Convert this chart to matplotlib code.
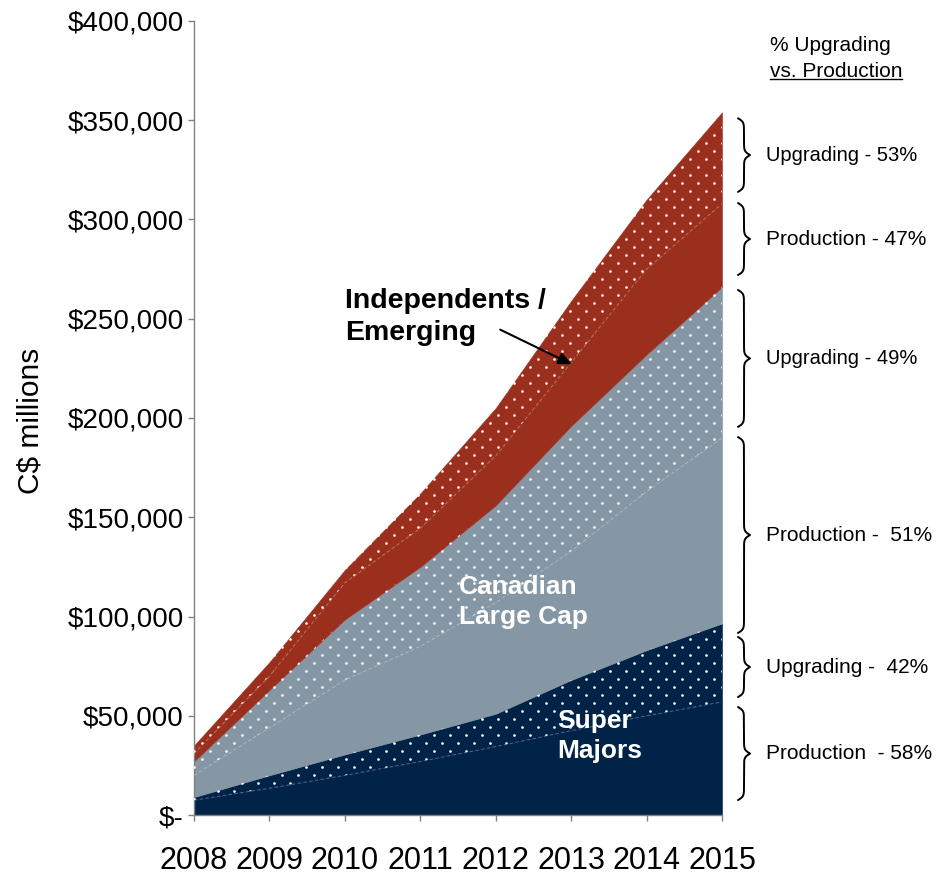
import matplotlib
matplotlib.use('Agg')
import matplotlib.pyplot as plt
import numpy as np
from matplotlib.lines import Line2D
from matplotlib.ticker import FuncFormatter, MultipleLocator
from matplotlib.transforms import blended_transform_factory

plt.rcParams['font.family'] = ['Liberation Sans', 'DejaVu Sans']
plt.rcParams['text.parse_math'] = False

# C$ millions, stacked from the bottom up
years = [2008, 2009, 2010, 2011, 2012, 2013, 2014, 2015]
super_prod = [7500, 13500, 20000, 27000, 34500, 42500, 50000, 57000]
super_upg = [1500, 6500, 10500, 13500, 16500, 25500, 33000, 39500]
large_prod = [11000, 24000, 37500, 44500, 56000, 65000, 80000, 93500]
large_upg = [7000, 19000, 30500, 40000, 49000, 63000, 69000, 76000]
indep_prod = [4000, 7000, 18500, 19500, 25000, 32000, 43000, 42000]
indep_upg = [4000, 7000, 6500, 17500, 24000, 31000, 35000, 46000]

share_labels = ['Production  - 58%', 'Upgrading -  42%', 'Production -  51%',
                'Upgrading - 49%', 'Production - 47%', 'Upgrading - 53%']

NAVY = '#002347'
GREY = '#8597A5'
RUST = '#9B2F1D'

fig = plt.figure(figsize=(9.37, 8.75), dpi=100)
ax = fig.add_axes([194 / 937, 60 / 875, 528 / 937, 794 / 875])
ax.set_xlim(2008, 2015)
ax.set_ylim(0, 400000)

# staggered white dot texture (pixel grid), clipped to the upgrading areas
bb_ax = ax.get_window_extent()
gx, gy = np.meshgrid(np.arange(bb_ax.x0, bb_ax.x1 + 16, 16),
                     np.arange(bb_ax.y0, bb_ax.y1 + 8, 8))
gx = gx + 8 * (np.arange(gx.shape[0]) % 2)[:, None]
dots = ax.transData.inverted().transform(np.column_stack([gx.ravel(), gy.ravel()]))

layers = [(super_prod, NAVY, False), (super_upg, NAVY, True),
          (large_prod, GREY, False), (large_upg, GREY, True),
          (indep_prod, RUST, False), (indep_upg, RUST, True)]
base = np.zeros(len(years))
for vals, col, dotted in layers:
    top = base + np.array(vals)
    poly = ax.fill_between(years, base, top, facecolor=col, edgecolor=col,
                           linewidth=0.4, zorder=2)
    if dotted:
        sc = ax.scatter(dots[:, 0], dots[:, 1], s=3.6, c='white', marker='o',
                        linewidths=0, zorder=3)
        sc.set_clip_path(poly.get_paths()[0], ax.transData)
    else:
        ax.plot(years, top, color='white', alpha=0.35, lw=0.6,
                ls=(0, (4, 3)), zorder=4)
    base = top

ax.set_xticks(years)
ax.yaxis.set_major_locator(MultipleLocator(50000))
ax.yaxis.set_major_formatter(FuncFormatter(
    lambda v, _: '$-' if v == 0 else f'${v:,.0f}'))
ax.tick_params(axis='y', direction='out', length=4.5, width=1, color='#808080',
               labelsize=20, pad=3)
ax.tick_params(axis='x', direction='out', length=4, width=1, color='#808080',
               labelsize=22, pad=18)
for s in ['top', 'right']:
    ax.spines[s].set_visible(False)
for s in ['left', 'bottom']:
    ax.spines[s].set_color('#808080')
    ax.spines[s].set_linewidth(1)
ax.set_ylabel('C$ millions', fontsize=21.5)
ax.yaxis.set_label_coords(-0.284, 0.497)

# labels inside the areas
ax.text(2010.0, 251000, 'Independents /\nEmerging', fontsize=20.5, fontweight='bold',
        ha='left', va='center', linespacing=1.28, zorder=6)
ax.annotate('', xy=(2013.01, 227000), xytext=(2012.06, 244500),
            arrowprops=dict(arrowstyle='-|>,head_length=0.8,head_width=0.35',
                            color='black', lw=1.5, shrinkA=0, shrinkB=0), zorder=6)
ax.text(2011.51, 107300, 'Canadian\nLarge Cap', fontsize=19, fontweight='bold',
        color='white', ha='left', va='center', linespacing=1.32, zorder=6)
ax.text(2012.81, 39800, 'Super\nMajors', fontsize=19, fontweight='bold',
        color='white', ha='left', va='center', linespacing=1.32, zorder=6)

# braces on the right with the upgrading / production split
trans = blended_transform_factory(ax.transAxes, ax.transData)
ppu = 794 / 400000  # pixels per C$ million


def brace(y_lo, y_hi, x0=(738 - 194) / 528, w=12 / 528, beta=0.55):
    half = (y_hi - y_lo) * ppu / 2
    t = np.linspace(0, half, 200)
    s = 1 / (1 + np.exp(-beta * t)) + 1 / (1 + np.exp(-beta * (t - half))) - 0.5
    ys = np.concatenate([y_lo + t / ppu, y_hi - t[::-1] / ppu])
    xs = np.concatenate([x0 + w * s, x0 + w * s[::-1]])
    ax.plot(xs, ys, color='black', lw=1.4, transform=trans, clip_on=False,
            solid_capstyle='round')


brace_spans = [(7500, 54400), (59400, 89700), (91700, 190400),
               (195500, 264500), (272000, 308300), (313900, 351000)]
label_size = [15, 15, 15, 14.5, 15, 14.5]
label_x = (766 - 194) / 528
for (lo, hi), lab, fs in zip(brace_spans, share_labels, label_size):
    brace(lo, hi)
    ax.text(label_x, (lo + hi) / 2, lab, transform=trans, fontsize=fs,
            ha='left', va='center')

ax.text((770 - 194) / 528, 387500, '% Upgrading', transform=trans, fontsize=15,
        ha='left', va='center')
hdr = ax.text((770 - 194) / 528, 374500, 'vs. Production', transform=trans,
              fontsize=15, ha='left', va='center')

fig.canvas.draw()
bb = hdr.get_window_extent()
inv = fig.transFigure.inverted()
(x0, y0), (x1, _) = inv.transform([(bb.x0, bb.y0 + 2), (bb.x1, bb.y0 + 2)])
fig.add_artist(Line2D([x0, x1], [y0, y0], color='black', lw=1))

fig.savefig('out.png', dpi=100)
